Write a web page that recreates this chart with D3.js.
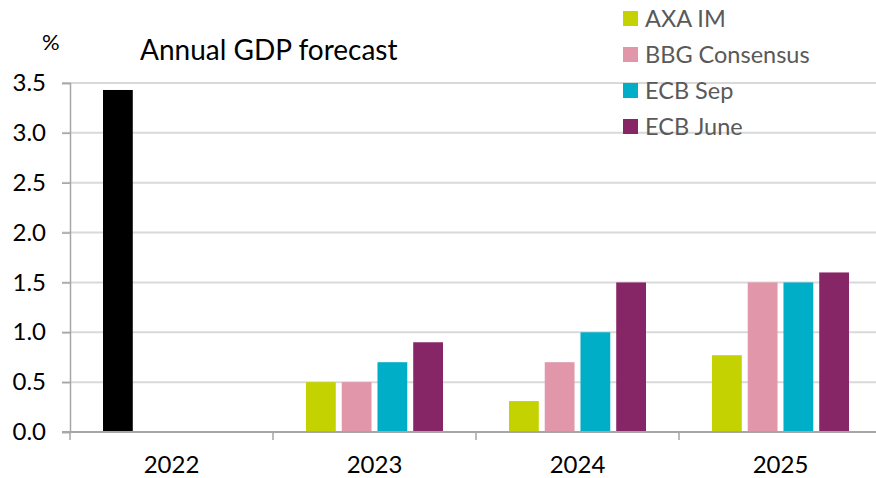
<!DOCTYPE html>
<html><head><meta charset="utf-8">
<script src="https://cdn.jsdelivr.net/npm/d3@7"></script>
<style>body{margin:0;background:#fff}svg{display:block}</style>
</head><body>
<script>
const categories = ["2022","2023","2024","2025"];
const seriesNames = ["AXA IM","BBG Consensus","ECB Sep","ECB June"];
const actual2022 = [3.43, null, null, null];
const axaIM = [null, 0.5, 0.31, 0.77];
const bbgConsensus = [null, 0.5, 0.7, 1.5];
const ecbSep = [null, 0.7, 1.0, 1.5];
const ecbJune = [null, 0.9, 1.5, 1.6];
const yTicks = [0,0.5,1.0,1.5,2.0,2.5,3.0,3.5];
const colors = ["#c3d200","#e196aa","#00aec7","#872666"];

(function(){
const W=876,H=478, pLeft=70, pRight=882, pTop=83, pBottom=432;
const font = "Lato, 'Open Sans', sans-serif";
const svg = d3.select("body").append("svg").attr("width",W).attr("height",H);
const x = d3.scaleBand().domain(categories).range([pLeft,pRight]).paddingInner(0).paddingOuter(0);
const y = d3.scaleLinear().domain([0,3.5]).range([pBottom,pTop]);
const slot = d3.scaleBand().domain([0,1,2,3]).range([33, x.bandwidth()-33]).paddingInner(6/36).paddingOuter(0);

// gridlines
svg.append("g").selectAll("line").data(yTicks.filter(d=>d>0)).join("line")
  .attr("x1",62).attr("x2",W).attr("y1",d=>y(d)).attr("y2",d=>y(d))
  .attr("stroke","#d9d9d9").attr("stroke-width",2);

// bars
const bars=[];
categories.forEach((c,i)=>{
  if(actual2022[i]!=null) bars.push({c,s:0,v:actual2022[i],col:"#000"});
  [axaIM,bbgConsensus,ecbSep,ecbJune].forEach((arr,k)=>{
    if(arr[i]!=null) bars.push({c,s:k,v:arr[i],col:colors[k]});
  });
});
svg.append("g").selectAll("rect").data(bars).join("rect")
  .attr("x",d=>x(d.c)+slot(d.s)).attr("width",slot.bandwidth())
  .attr("y",d=>y(d.v)).attr("height",d=>y(0)-y(d.v)).attr("fill",d=>d.col);

// y axis
const ya = svg.append("g").attr("transform",`translate(${pLeft},0)`)
  .call(d3.axisLeft(y).tickValues(yTicks).tickFormat(d3.format(".1f")).tickSize(8).tickPadding(16));
ya.select(".domain").attr("stroke","#a6a6a6").attr("stroke-width",1.5);
ya.selectAll(".tick line").attr("stroke","#a6a6a6").attr("stroke-width",1.5);
ya.selectAll("text").attr("font-family",font).attr("font-size",24).attr("fill","#000");

// x axis
svg.append("line").attr("x1",62).attr("x2",W).attr("y1",pBottom).attr("y2",pBottom)
  .attr("stroke","#a6a6a6").attr("stroke-width",2);
svg.append("g").selectAll("line").data(categories).join("line")
  .attr("x1",d=>x(d)).attr("x2",d=>x(d)).attr("y1",pBottom).attr("y2",pBottom+8)
  .attr("stroke","#a6a6a6").attr("stroke-width",1.5);
svg.append("g").selectAll("text").data(categories).join("text")
  .attr("x",d=>x(d)+x.bandwidth()/2).attr("y",473).attr("text-anchor","middle")
  .attr("font-family",font).attr("font-size",24).attr("fill","#000").text(d=>d);

// title and unit
svg.append("text").attr("x",140).attr("y",60).attr("font-family",font).attr("font-size",28).attr("fill","#000").text("Annual GDP forecast");
svg.append("text").attr("x",42).attr("y",50).attr("font-family",font).attr("font-size",22).attr("fill","#000").text("%");

// legend
const lg = svg.append("g").selectAll("g").data(seriesNames).join("g")
  .attr("transform",(d,i)=>`translate(623,${11+i*36})`);
lg.append("rect").attr("width",15).attr("height",15).attr("fill",(d,i)=>colors[i]);
lg.append("text").attr("x",22).attr("y",16).attr("font-family",font).attr("font-size",23.5).attr("fill","#595959").text(d=>d);
})();
</script>
</body></html>
